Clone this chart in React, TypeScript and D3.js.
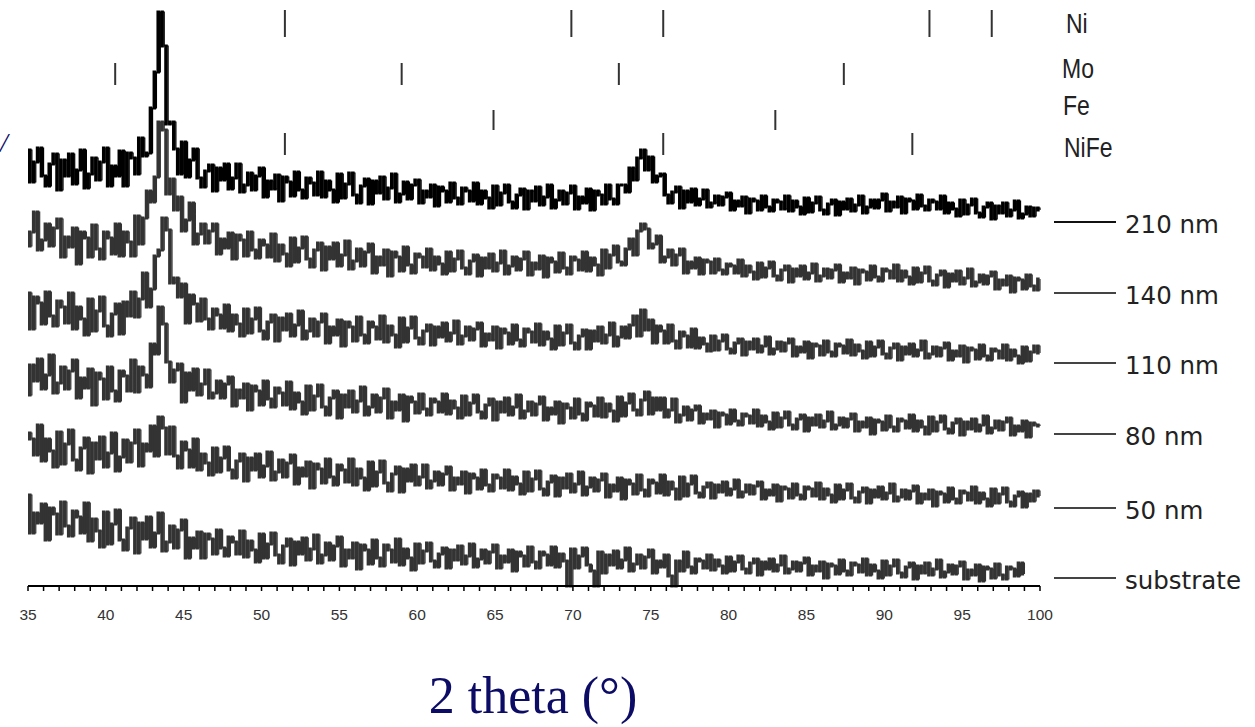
import React from 'react';
import * as d3 from 'd3';

// Scan grid: 2θ from 35° in 0.25° steps
const THETA_START = 35;
const THETA_STEP = 0.25;

const axisTicks = d3.range(35, 101, 1);
const axisLabels = [35, 40, 45, 50, 55, 60, 65, 70, 75, 80, 85, 90, 95, 100];

// Reference peak positions (2θ, degrees)
const phaseNames = ['Ni', 'Mo', 'Fe', 'NiFe'];
const niPeaks = [51.5, 69.9, 75.8, 92.9, 96.9];
const moPeaks = [40.6, 59.0, 72.95, 87.4];
const fePeaks = [64.9, 83.0];
const nifePeaks = [51.5, 75.8, 91.8];
const phasePeaks = [niPeaks, moPeaks, fePeaks, nifePeaks];

// Film thickness series, stacked with a vertical offset each
const sampleNames = ['210 nm', '140 nm', '110 nm', '80 nm', '50 nm', 'substrate'];
const sampleOffsets = [364, 293, 223, 152, 78, 8];

// intensities (a.u.), one row of 4 values per degree
const s210 = [
  72, 40, 60, 74, 46, 36, 58, 68, 32, 62, 46, 68, 38, 52, 72, 34, 48, 64, 42, 60,
  74, 36, 56, 46, 71, 36, 69, 64, 48, 84, 66, 69, 114, 150, 210, 176, 98, 100, 73, 48,
  80, 45, 62, 73, 44, 35, 51, 57, 31, 54, 42, 58, 33, 44, 58, 30, 37, 49, 32, 46,
  54, 25, 41, 33, 47, 21, 45, 40, 26, 50, 32, 24, 44, 39, 27, 50, 25, 41, 32, 20,
  48, 24, 38, 49, 27, 19, 36, 43, 18, 41, 29, 45, 23, 34, 48, 20, 28, 40, 23, 37,
  42, 19, 31, 25, 37, 16, 35, 31, 20, 39, 24, 18, 34, 31, 21, 39, 18, 31, 24, 14,
  36, 17, 29, 37, 20, 14, 27, 33, 13, 31, 21, 35, 17, 25, 37, 14, 22, 31, 18, 29,
  36, 13, 25, 19, 33, 12, 31, 27, 18, 37, 23, 18, 37, 37, 30, 54, 42, 64, 72, 52,
  65, 40, 46, 48, 27, 19, 30, 35, 14, 31, 20, 33, 17, 23, 32, 15, 19, 26, 17, 25,
  29, 12, 21, 16, 25, 9, 23, 21, 12, 26, 15, 11, 22, 20, 13, 26, 11, 21, 15, 8,
  24, 10, 19, 25, 12, 8, 18, 22, 7, 20, 13, 23, 11, 17, 26, 9, 15, 22, 14, 22,
  28, 11, 20, 15, 25, 9, 23, 21, 13, 27, 16, 12, 22, 20, 13, 26, 9, 19, 13, 6,
  22, 8, 17, 23, 9, 5, 15, 19, 3, 16, 9, 19, 6, 12, 21, 4, 8, 15, 6, 14,
  12,
];

const s140 = [
  47, 61, 81, 43, 53, 69, 47, 65, 74, 36, 56, 46, 65, 29, 61, 55, 36, 68, 44, 34,
  61, 55, 39, 69, 37, 61, 51, 37, 77, 49, 75, 102, 91, 116, 171, 163, 99, 114, 83, 96,
  62, 73, 90, 49, 59, 69, 50, 62, 69, 39, 54, 45, 60, 34, 58, 53, 37, 61, 43, 35,
  53, 48, 36, 59, 32, 48, 39, 27, 55, 31, 45, 56, 34, 26, 43, 50, 23, 46, 34, 50,
  27, 38, 52, 24, 32, 44, 27, 41, 49, 20, 36, 28, 43, 17, 41, 36, 22, 46, 28, 20,
  39, 36, 26, 44, 23, 36, 29, 19, 41, 22, 34, 42, 25, 19, 32, 38, 17, 35, 25, 39,
  22, 30, 42, 19, 27, 36, 23, 34, 41, 18, 30, 24, 37, 16, 35, 31, 21, 40, 25, 19,
  36, 33, 23, 41, 22, 35, 28, 18, 43, 25, 38, 47, 31, 28, 44, 54, 38, 62, 69, 64,
  45, 49, 57, 31, 36, 43, 28, 38, 44, 20, 31, 25, 35, 19, 33, 31, 20, 34, 23, 19,
  29, 27, 20, 33, 17, 27, 21, 14, 30, 16, 25, 31, 17, 13, 23, 27, 11, 24, 17, 27,
  14, 20, 29, 12, 17, 24, 15, 23, 28, 11, 20, 15, 25, 9, 23, 21, 13, 27, 16, 12,
  24, 22, 15, 28, 12, 22, 16, 9, 25, 11, 20, 26, 12, 8, 18, 22, 6, 19, 12, 22,
  9, 15, 24, 7, 11, 18, 9, 17, 21, 4, 13, 8, 17, 1, 15, 13, 4, 18, 7, 3,
  14,
];

const s110 = [
  70, 34, 66, 60, 39, 71, 47, 37, 62, 56, 40, 70, 34, 56, 44, 28, 64, 32, 52, 66,
  37, 27, 49, 59, 29, 61, 47, 71, 46, 64, 90, 56, 74, 107, 113, 145, 133, 80, 85, 66,
  79, 40, 68, 59, 42, 64, 44, 34, 54, 48, 35, 58, 32, 48, 39, 27, 54, 30, 44, 55,
  32, 24, 41, 48, 22, 45, 33, 49, 27, 38, 52, 24, 32, 44, 27, 41, 49, 20, 36, 28,
  43, 17, 41, 36, 22, 46, 28, 20, 41, 36, 24, 47, 21, 37, 28, 16, 45, 21, 35, 46,
  25, 19, 32, 38, 18, 36, 26, 40, 22, 30, 42, 19, 27, 36, 23, 34, 40, 17, 29, 23,
  36, 15, 34, 30, 19, 38, 23, 17, 34, 31, 21, 39, 18, 31, 24, 14, 37, 18, 30, 38,
  20, 14, 27, 33, 14, 32, 22, 36, 20, 28, 40, 17, 26, 36, 25, 38, 47, 27, 53, 33,
  43, 20, 37, 32, 20, 38, 22, 15, 31, 27, 16, 34, 15, 25, 19, 12, 27, 13, 22, 28,
  14, 10, 20, 24, 8, 21, 14, 24, 11, 17, 26, 9, 14, 21, 12, 20, 24, 7, 16, 11,
  21, 5, 19, 17, 8, 22, 11, 7, 19, 17, 10, 23, 8, 18, 12, 5, 21, 7, 16, 22,
  9, 5, 15, 19, 3, 16, 9, 19, 7, 13, 22, 5, 9, 16, 7, 15, 20, 3, 12, 7,
  17, 1, 15, 13, 4, 18, 7, 3, 14, 12, 5, 18, 3, 13, 7, 0, 16, 2, 11, 17,
  10,
];

const s80 = [
  39, 69, 53, 75, 45, 59, 79, 41, 51, 67, 45, 63, 74, 36, 56, 46, 65, 29, 61, 55,
  35, 67, 43, 33, 63, 58, 43, 74, 42, 67, 59, 47, 90, 80, 127, 110, 72, 52, 64, 70,
  32, 61, 44, 65, 39, 50, 64, 36, 41, 53, 36, 50, 57, 28, 44, 36, 50, 24, 48, 43,
  29, 53, 35, 27, 46, 41, 29, 52, 25, 41, 32, 20, 48, 24, 38, 49, 27, 19, 36, 43,
  16, 39, 27, 43, 22, 33, 47, 19, 27, 39, 22, 36, 45, 16, 32, 24, 39, 13, 37, 32,
  21, 40, 25, 19, 35, 32, 22, 40, 20, 33, 26, 16, 38, 19, 31, 39, 22, 16, 29, 35,
  14, 32, 22, 36, 19, 27, 39, 16, 23, 32, 19, 30, 37, 14, 26, 20, 32, 11, 30, 26,
  16, 35, 20, 14, 31, 28, 18, 36, 17, 30, 23, 13, 37, 18, 31, 40, 24, 19, 34, 42,
  20, 36, 24, 36, 17, 24, 35, 12, 19, 27, 14, 24, 28, 11, 20, 15, 23, 7, 21, 19,
  10, 24, 13, 9, 20, 18, 11, 24, 8, 18, 12, 5, 21, 7, 16, 22, 9, 5, 15, 19,
  3, 16, 9, 19, 7, 13, 22, 5, 9, 16, 7, 15, 20, 3, 12, 7, 16, 0, 14, 12,
  4, 18, 7, 3, 15, 13, 6, 19, 3, 13, 7, 0, 17, 3, 12, 18, 5, 1, 11, 15,
  -1, 12, 5, 15, 3, 9, 18, 1, 6, 13, 4, 12, 16, -1, 8, 3, 13, -3, 11, 9,
  8,
];

const s50 = [
  75, 69, 53, 83, 47, 69, 57, 41, 76, 44, 64, 78, 48, 38, 60, 70, 35, 65, 49, 71,
  41, 55, 75, 37, 51, 68, 46, 65, 78, 42, 64, 57, 82, 52, 91, 80, 54, 81, 52, 40,
  66, 58, 41, 69, 38, 54, 45, 33, 60, 36, 50, 61, 38, 30, 47, 54, 27, 50, 38, 54,
  31, 42, 56, 28, 36, 48, 31, 45, 53, 24, 40, 32, 46, 20, 44, 39, 25, 49, 31, 23,
  43, 38, 26, 49, 23, 39, 30, 18, 46, 22, 36, 47, 25, 17, 34, 41, 16, 39, 27, 43,
  23, 31, 43, 20, 27, 36, 23, 34, 41, 18, 30, 24, 36, 15, 34, 30, 19, 38, 23, 17,
  33, 30, 20, 38, 18, 31, 24, 14, 36, 17, 29, 37, 19, 13, 26, 32, 12, 30, 20, 34,
  16, 24, 36, 13, 21, 30, 17, 28, 34, 11, 23, 17, 30, 9, 28, 24, 14, 33, 18, 12,
  28, 25, 15, 33, 13, 26, 19, 9, 31, 12, 24, 32, 15, 11, 21, 25, 10, 23, 16, 26,
  13, 19, 28, 11, 16, 23, 14, 22, 26, 9, 18, 13, 23, 7, 21, 19, 10, 24, 13, 9,
  21, 19, 12, 25, 9, 19, 13, 6, 23, 9, 18, 24, 10, 6, 16, 20, 5, 18, 11, 21,
  9, 15, 24, 7, 11, 18, 9, 17, 22, 5, 14, 9, 18, 2, 16, 14, 6, 20, 9, 5,
  17, 15, 8, 21, 5, 15, 9, 2, 19, 5, 14, 20, 6, 2, 12, 16, 1, 14, 7, 17,
  12,
];

const sSubstrate = [
  83, 45, 65, 55, 74, 38, 70, 64, 44, 76, 52, 42, 67, 61, 45, 75, 37, 59, 47, 31,
  66, 34, 54, 68, 38, 28, 50, 60, 25, 55, 39, 61, 31, 45, 65, 27, 36, 52, 30, 48,
  58, 20, 40, 30, 46, 20, 44, 39, 24, 48, 30, 22, 41, 36, 24, 47, 21, 37, 28, 16,
  44, 20, 34, 45, 23, 15, 32, 39, 13, 36, 24, 40, 18, 29, 43, 15, 23, 35, 18, 32,
  41, 12, 28, 20, 35, 9, 33, 28, 14, 38, 20, 12, 33, 28, 16, 39, 13, 29, 20, 8,
  34, 15, 27, 35, 17, 11, 24, 30, 10, 28, 18, 32, 14, 22, 34, 11, 19, 28, 15, 26,
  33, 10, 22, 16, 28, 7, 26, 22, 12, 31, 16, 10, 26, 23, 13, 31, 11, 24, 17, -8,
  29, 10, 22, 30, 13, 7, -8, 26, 5, 23, 13, 27, 10, 18, 30, 7, 14, 23, 10, 21,
  28, 5, 17, 11, 23, 2, -8, 17, 7, 26, 11, 5, 19, 17, 10, 23, 8, 18, 12, 5,
  21, 7, 16, 22, 9, 5, 15, 19, 3, 16, 9, 19, 7, 13, 22, 5, 9, 16, 7, 15,
  20, 3, 12, 7, 16, 0, 14, 12, 4, 18, 7, 3, 15, 13, 6, 19, 3, 13, 7, 0,
  17, 3, 12, 18, 5, 1, 11, 15, -1, 12, 5, 15, 3, 9, 18, 1, 6, 13, 4, 12,
  16, -1, 8, 3, 13, -3, 11, 9, 0, 14, 3, -1, 11, 9, 2, 15,
  4,
];

const sampleSeries = [s210, s140, s110, s80, s50, sSubstrate];
const sampleColors = ['#000000', '#333333', '#333333', '#333333', '#333333', '#333333'];

const W = 1255;
const H = 727;
const AXIS_Y = 586;

const x = d3.scaleLinear().domain([35, 100]).range([28, 1040]);
const y = d3.scaleLinear().domain([0, 600]).range([AXIS_Y, AXIS_Y - 600]);

// vertical extent (px) of each phase marker row, and label baselines
const markerRows = [
  { top: 10, bottom: 37, labelX: 1066, labelY: 33 },
  { top: 63, bottom: 85, labelX: 1062, labelY: 78 },
  { top: 110, bottom: 130, labelX: 1063, labelY: 115 },
  { top: 133, bottom: 155, labelX: 1064, labelY: 157 },
];

type Seg = { t0: number; t1: number; lo: number; hi: number };

// each scan interval is drawn as the vertical span between neighbouring counts
function segments(values: number[], offset: number): Seg[] {
  const out: Seg[] = [];
  for (let i = 0; i < values.length - 1; i++) {
    out.push({
      t0: THETA_START + i * THETA_STEP,
      t1: THETA_START + (i + 1) * THETA_STEP,
      lo: Math.min(values[i], values[i + 1]) + offset,
      hi: Math.max(values[i], values[i + 1]) + offset,
    });
  }
  return out;
}

const GAP = 0.35;
const PAD = 1.5;

const lineGen = d3
  .line<number>()
  .x((_, i) => x(THETA_START + i * THETA_STEP))
  .y((v) => y(v))
  .curve(d3.curveStepAfter);

export default function App() {
  return (
    <svg
      width={W}
      height={H}
      viewBox={`0 0 ${W} ${H}`}
      style={{ position: 'absolute', left: 0, top: 0, background: '#fff' }}
    >
      <rect x={0} y={0} width={W} height={H} fill="#fff" />

      {/* stacked diffraction patterns, bottom first so thicker films sit on top */}
      {sampleSeries
        .map((vals, i) => ({ vals, i }))
        .reverse()
        .map(({ vals, i }) => (
          <g key={sampleNames[i]}>
            <g fill={sampleColors[i]}>
              {segments(vals, sampleOffsets[i]).map((s, k) => {
                const x0 = x(s.t0);
                const x1 = x(s.t1);
                const top = y(s.hi) - PAD;
                const bot = y(s.lo) + PAD;
                return <rect key={k} x={x0} y={top} width={x1 - x0 - GAP} height={bot - top} />;
              })}
            </g>
            <path
              d={lineGen(vals.map((v) => v + sampleOffsets[i])) || ''}
              fill="none"
              stroke={sampleColors[i]}
              strokeWidth={1.2}
            />
          </g>
        ))}

      {/* phase reference markers */}
      {phasePeaks.map((peaks, r) => (
        <g key={phaseNames[r]}>
          {peaks.map((p) => (
            <line
              key={p}
              x1={x(p)}
              x2={x(p)}
              y1={markerRows[r].top}
              y2={markerRows[r].bottom}
              stroke="#333"
              strokeWidth={2}
            />
          ))}
          <text
            transform={`translate(${markerRows[r].labelX},${markerRows[r].labelY}) scale(1,1.22)`}
            fontFamily="'Liberation Sans', Arial, sans-serif"
            fontSize={23}
            fill="#222"
          >
            {phaseNames[r]}
          </text>
        </g>
      ))}

      {/* sample labels */}
      {sampleNames.map((name, i) => {
        const ly = y(sampleOffsets[i]);
        return (
          <g key={name}>
            <line x1={1054} x2={1116} y1={ly} y2={ly} stroke={i === 0 ? '#111' : '#444'} strokeWidth={2} />
            <text
              x={1125}
              y={ly + 11}
              fontFamily="'DejaVu Sans', Verdana, sans-serif"
              fontSize={24.5}
              fill="#222"
            >
              {name}
            </text>
          </g>
        );
      })}

      {/* 2θ axis */}
      <line x1={x(35)} x2={x(100)} y1={AXIS_Y} y2={AXIS_Y} stroke="#000" strokeWidth={2} />
      {axisTicks.map((t) => (
        <line key={t} x1={x(t)} x2={x(t)} y1={AXIS_Y} y2={AXIS_Y + 5} stroke="#000" strokeWidth={1.5} />
      ))}
      {axisLabels.map((t) => (
        <text
          key={t}
          x={x(t)}
          y={620}
          textAnchor="middle"
          fontFamily="'Liberation Sans', Arial, sans-serif"
          fontSize={15.5}
          fill="#333"
        >
          {t}
        </text>
      ))}

      <text
        x={533}
        y={713}
        textAnchor="middle"
        fontFamily="'Liberation Serif', 'Times New Roman', serif"
        fontSize={52}
        fill="#0c0c66"
      >
        2 theta (°)
      </text>

      <text x={0} y={152} fontFamily="'Liberation Serif', serif" fontSize={28} fontStyle="italic" fill="#0c0c66">
        /
      </text>
    </svg>
  );
}
